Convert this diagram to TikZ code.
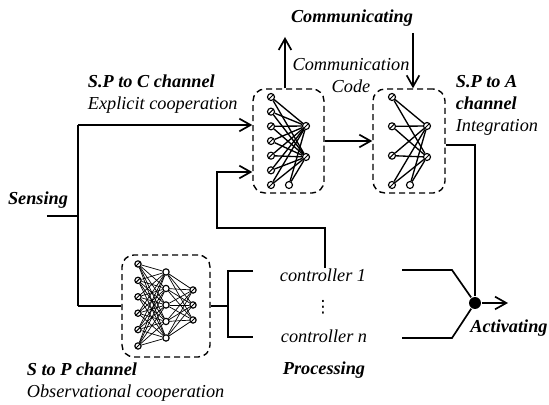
\documentclass[tikz,border=0pt]{standalone}
\usepackage{fontspec}
\setmainfont{Liberation Serif}
\newfontfamily\dotsfont{DejaVu Sans}
\usetikzlibrary{arrows.meta}

\begin{document}
\begin{tikzpicture}[x=0.025cm, y=-0.025cm, line width=1.2pt,
	lbl/.style={font=\fontsize{13}{15.6}\selectfont\itshape, inner sep=0pt},
	blbl/.style={font=\fontsize{13}{15.6}\selectfont\bfseries\itshape, inner sep=0pt, align=left},
	netbox/.style={rectangle, draw, line width=1pt, dash pattern=on 4.3pt off 2.8pt, rounded corners=8.5pt},
	unit/.style={circle, draw, fill=white, inner sep=0pt, minimum size=5pt, line width=0.8pt,
		path picture={\draw[line width=0.7pt] (path picture bounding box.south west) -- (path picture bounding box.north east);}},
	bias/.style={circle, draw, fill=white, inner sep=0pt, minimum size=5pt, line width=0.8pt},
	wire/.style={line width=0.95pt},
	thinwire/.style={line width=0.5pt},
	dot/.style={circle, fill=black, inner sep=0pt, minimum size=8.5pt},
	arr/.style={-{Straight Barb[length=8pt,width=9pt]}}]
	\useasboundingbox (0,0) rectangle (549,405);

	% dashed frames of the three networks
	\node[netbox, minimum width=1.775cm, minimum height=2.6cm] (spc) at (288.5,141) {};
	\node[netbox, minimum width=1.8cm, minimum height=2.6cm] (spa) at (409,141) {};
	\node[netbox, minimum width=2.2cm, minimum height=2.55cm] (sp) at (166,306) {};

	% S.P to C network
	\foreach \i in {1,...,7}
		\node[unit] (c\i) at (271, 82.33+14.67*\i) {};
	\node[unit] (cr1) at (306,126) {};
	\node[unit] (cr2) at (306,157) {};
	\node[bias] (cb) at (289,185) {};
	\foreach \i in {1,...,7}
		\foreach \j in {1,2}
			\path[wire] (c\i) edge (cr\j);
	\foreach \j in {1,2}
		\path[wire] (cb) edge (cr\j);

	% S.P to A network
	\foreach \i in {1,...,4}
		\node[unit] (a\i) at (392, 67.67+29.33*\i) {};
	\node[unit] (ar1) at (427,126) {};
	\node[unit] (ar2) at (427,157) {};
	\node[bias] (ab) at (410,185) {};
	\foreach \i in {1,...,4}
		\foreach \j in {1,2}
			\path[wire] (a\i) edge (ar\j);
	\foreach \j in {1,2}
		\path[wire] (ab) edge (ar\j);

	% S to P network
	\foreach \i in {1,...,6}
		\node[unit, minimum size=4.5pt] (s\i) at (138, 247.6+16.4*\i) {};
	\foreach \i in {1,...,5}
		\node[bias, minimum size=4.5pt] (h\i) at (166, 255.5+16.5*\i) {};
	\foreach \i in {1,...,3}
		\node[unit, minimum size=4.5pt] (o\i) at (193, 275+15*\i) {};
	\foreach \i in {1,...,6}
		\foreach \j in {1,...,5}
			\path[thinwire] (s\i) edge (h\j);
	\foreach \i in {1,...,5}
		\foreach \j in {1,...,3}
			\path[thinwire] (h\i) edge (o\j);

	% labels
	\node[blbl] (sensing) at (38,200) {Sensing};
	\node[blbl, anchor=west] (spcl) at (87,94) {S.P to C channel\\\mdseries Explicit cooperation};
	\node[blbl, anchor=west] (spal) at (455,105) {S.P to A\\channel\\\mdseries Integration};
	\node[blbl, anchor=west] (spl) at (26,382) {S to P channel\\\mdseries Observational cooperation};
	\node[blbl] (comm) at (352,18) {Communicating};
	\node[lbl, align=center] (code) at (351,76) {Communication\\Code};
	\node[lbl] (ctrl1) at (323,275) {controller 1};
	\node[font=\fontsize{12}{12}\dotsfont, inner sep=0pt] (ctrldots) at (323,307) {⋮};
	\node[lbl] (ctrln) at (324,336) {controller n};
	\node[blbl] (proc) at (324,370) {Processing};
	\node[blbl] (actl) at (509,328) {Activating};

	% sensing fork
	\coordinate (sensin) at (47,216);
	\coordinate (fork) at (78,216);
	\coordinate (forkup) at (78,125);
	\coordinate (forkdn) at (78,306);
	\draw (sensin) -- (fork);
	\draw (forkdn) -- (forkup);
	\draw[arr] (forkup) -- (forkup -| spc.west);
	\draw (forkdn) -- (sp.west);

	% controller 1 back to the S.P to C network
	\coordinate (fbA) at (325,228);
	\coordinate (fbB) at (217,172);
	\draw[arr] (ctrl1.north -| fbA) -- (fbA) -| (fbB) -- (fbB -| spc.west);

	% communication
	\draw[arr] (spc.east) -- (spa.west);
	\coordinate (codeup) at (285,37);
	\coordinate (codedn) at (413,33);
	\draw[arr] (codeup |- spc.north) -- (codeup);
	\draw[arr] (codedn) -- (codedn |- spa.north);

	% branch to the controllers
	\coordinate (br) at (228,306);
	\coordinate (br1) at (253,271);
	\coordinate (brn) at (253,337);
	\draw (sp.east) -- (br);
	\draw (br1) -| (br) |- (brn);

	% activation
	\node[dot] (junc) at (475,303) {};
	\coordinate (intg) at (475,145);
	\draw (spa.east |- intg) -- (intg) -- (junc);
	\coordinate (k1) at (402,270);
	\coordinate (k2) at (452,270);
	\coordinate (kn) at (402,338);
	\coordinate (kn2) at (452,338);
	\draw (k1) -- (k2) -- (junc);
	\draw (kn) -- (kn2) -- (junc);
	\coordinate (act) at (508,303);
	\draw[arr] (junc) -- (act);
\end{tikzpicture}
\end{document}
